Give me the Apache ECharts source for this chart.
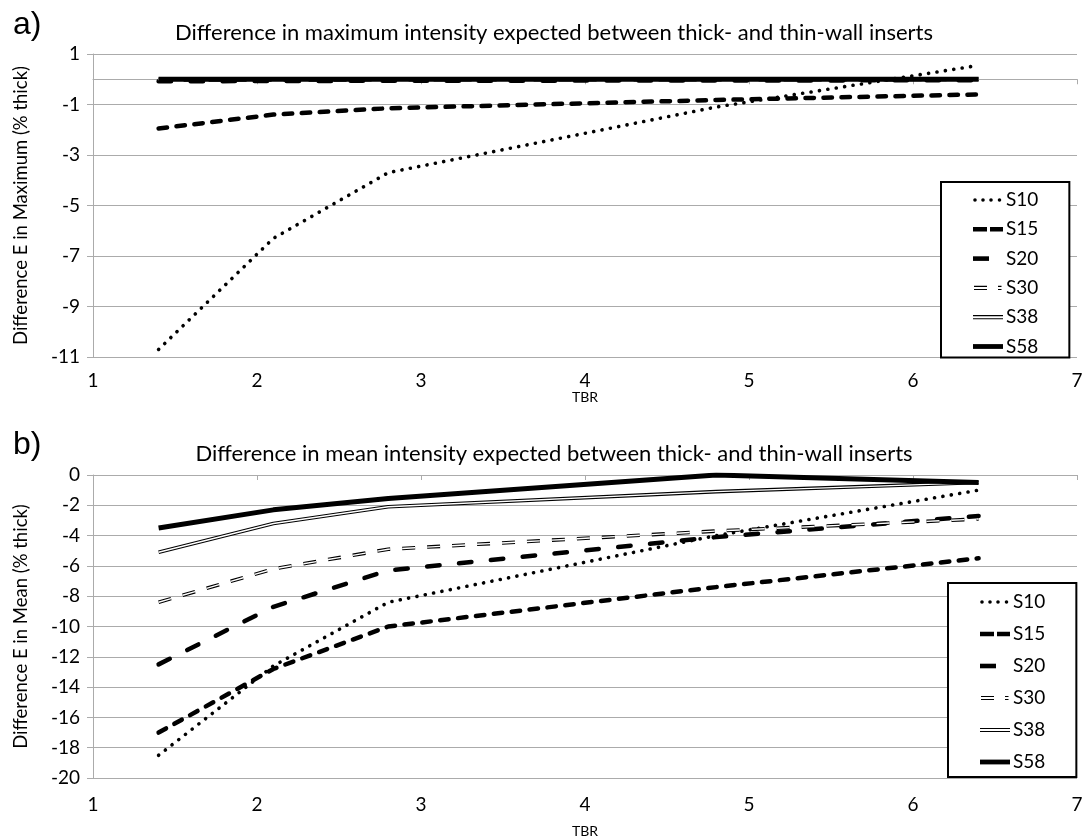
<!DOCTYPE html>
<html>
<head>
<meta charset="utf-8">
<script src="https://cdn.jsdelivr.net/npm/echarts@6/dist/echarts.min.js"></script>
<style>
html, body { margin: 0; padding: 0; background: #fff; }
#chart { width: 1087px; height: 839px; }
</style>
</head>
<body>
<div id="chart"></div>
<script>
// TBR values shared by every series
var tbr = [1.4, 2.1, 2.8, 4.8, 6.4];
var names = ['S10', 'S15', 'S20', 'S30', 'S38', 'S58'];

// a) difference in maximum (% thick)
var maxS10 = [-10.7, -6.3, -3.7, -1.1, 0.55];
var maxS15 = [-1.95, -1.4, -1.15, -0.82, -0.6];
var maxS20 = [-0.08, -0.07, -0.06, -0.05, -0.04];
var maxS30 = [-0.03, -0.03, -0.02, -0.02, -0.01];
var maxS38 = [0, 0, 0, 0, 0];
var maxS58 = [0, 0, 0, 0, 0];

// b) difference in mean (% thick)
var meanS10 = [-18.5, -12.6, -8.4, -4.0, -1.0];
var meanS15 = [-17.0, -12.8, -10.0, -7.4, -5.5];
var meanS20 = [-12.5, -8.7, -6.3, -4.1, -2.7];
var meanS30 = [-8.4, -6.2, -4.9, -3.7, -2.9];
var meanS38 = [-5.1, -3.2, -2.1, -1.1, -0.5];
var meanS58 = [-3.5, -2.3, -1.55, 0, -0.5];

var FONT = 'Lato';
var GRID_COL = '#ababab';

function pts(ys) {
  return tbr.map(function (x, i) { return [x, ys[i]]; });
}

// line looks, one per sample
function lineSeries(name, ys, gi, style) {
  return {
    name: name, type: 'line', data: pts(ys),
    xAxisIndex: gi * 2, yAxisIndex: gi,
    symbol: 'none', silent: true, animation: false,
    lineStyle: Object.assign({ color: '#000', join: 'round' }, style)
  };
}

function seriesFor(gi, d) {
  return [
    lineSeries('S10', d[0], gi, { width: 3.6, type: [0.1, 8.4], cap: 'round' }),
    lineSeries('S15', d[1], gi, { width: 4.5, type: [8.5, 9.5], cap: 'round' }),
    lineSeries('S20', d[2], gi, { width: 4.5, type: [12.5, 19.5], cap: 'round' }),
    lineSeries('S30', d[3], gi, { width: 3.6, type: [13, 12] }),
    lineSeries('S30 inner', d[3], gi, { width: 1.4, type: [13, 12], color: '#fff' }),
    lineSeries('S38', d[4], gi, { width: 3.6 }),
    lineSeries('S38 inner', d[4], gi, { width: 1.4, color: '#fff' }),
    lineSeries('S58', d[5], gi, { width: 5 })
  ];
}

// legend icon paths (30 x 14 box)
var BOX = 'M0,0L0,0M30,14L30,14';
function dot(cx) { return 'M' + (cx - 1.8) + ',7A1.8,1.8 0 1 0 ' + (cx + 1.8) + ',7A1.8,1.8 0 1 0 ' + (cx - 1.8) + ',7Z'; }
function rect(x0, x1, y0, y1) { return 'M' + x0 + ',' + y0 + 'H' + x1 + 'V' + y1 + 'H' + x0 + 'Z'; }
var icons = {
  S10: BOX + dot(2) + dot(10) + dot(18) + dot(26.5),
  S15: BOX + rect(0, 14, 4.7, 9.3) + rect(17, 30, 4.7, 9.3),
  S20: BOX + rect(0, 16, 4.7, 9.3),
  S30: BOX + rect(1, 14, 4.9, 6) + rect(1, 14, 8, 9.1) + rect(25, 28.5, 4.9, 6) + rect(25, 28.5, 8, 9.1),
  S38: BOX + rect(0, 30, 4.9, 6) + rect(0, 30, 8, 9.1),
  S58: BOX + rect(0, 30, 4.6, 9.4)
};

function legendAt(left, top, pad, gap) {
  return {
    orient: 'vertical', left: left, top: top, selectedMode: false,
    itemWidth: 30, itemHeight: 14, itemGap: gap, padding: pad,
    borderColor: '#000', borderWidth: 2, backgroundColor: '#fff',
    textStyle: { fontFamily: FONT, fontSize: 19, color: '#000', lineHeight: 20, padding: [0, 0, 0, -2] },
    data: names.map(function (n) {
      return { name: n, icon: 'path://' + icons[n], itemStyle: { color: '#000', borderWidth: 0 } };
    })
  };
}

function xAxes(gi, labelMargin, nameGap) {
  return [
    { // line through zero with ticks
      type: 'value', gridIndex: gi, min: 1, max: 7, interval: 1,
      axisLine: { onZero: true, lineStyle: { color: GRID_COL, width: 1 } },
      axisTick: { show: true, length: 5, lineStyle: { color: GRID_COL } },
      axisLabel: { show: false }, splitLine: { show: false }
    },
    { // labels at the bottom
      type: 'value', gridIndex: gi, min: 1, max: 7, interval: 1, position: 'bottom',
      axisLine: { show: false, onZero: false }, axisTick: { show: false }, splitLine: { show: false },
      axisLabel: { margin: labelMargin, fontFamily: FONT, fontSize: 19, color: '#000' },
      name: 'TBR', nameLocation: 'middle', nameGap: nameGap,
      nameTextStyle: { fontFamily: FONT, fontSize: 14, color: '#000' }
    }
  ];
}

function yAxis(gi, min, max, name) {
  return {
    type: 'value', gridIndex: gi, min: min, max: max, interval: 2,
    axisLine: { show: true, lineStyle: { color: GRID_COL } },
    axisTick: { show: true, length: 6, lineStyle: { color: GRID_COL } },
    splitLine: { lineStyle: { color: GRID_COL, width: 1 } },
    axisLabel: { margin: 13, fontFamily: FONT, fontSize: 19, color: '#000' },
    name: name, nameLocation: 'middle', nameGap: 62,
    nameTextStyle: { fontFamily: FONT, fontSize: 18.5, color: '#000' }
  };
}

var chart = echarts.init(document.getElementById('chart'), null, { renderer: 'canvas' });
chart.setOption({
  backgroundColor: '#fff',
  animation: false,
  title: [
    { text: 'a)', left: 8, top: 4, textStyle: { fontFamily: 'Liberation Sans', fontSize: 32, fontWeight: 'normal', color: '#000' } },
    { text: 'Difference in maximum intensity expected between thick- and thin-wall inserts', left: 549, top: 17, textAlign: 'center',
      textStyle: { fontFamily: FONT, fontSize: 22, fontWeight: 'normal', color: '#000' } },
    { text: 'b)', left: 8, top: 424, textStyle: { fontFamily: 'Liberation Sans', fontSize: 32, fontWeight: 'normal', color: '#000' } },
    { text: 'Difference in mean intensity expected between thick- and thin-wall inserts', left: 549, top: 438, textAlign: 'center',
      textStyle: { fontFamily: FONT, fontSize: 22, fontWeight: 'normal', color: '#000' } }
  ],
  legend: [legendAt(941, 182, [8, 31, 1, 32], 9.3), legendAt(948, 583, [9, 31, 5, 32], 12)],
  grid: [
    { left: 93, right: 10, top: 54, height: 303 },
    { left: 93, right: 10, top: 475, height: 304 }
  ],
  xAxis: xAxes(0, 14, 28).concat(xAxes(1, 17, 46)),
  yAxis: [
    yAxis(0, -11, 1, 'Difference E in Maximum (% thick)'),
    yAxis(1, -20, 0, 'Difference E in Mean (% thick)')
  ],
  series: seriesFor(0, [maxS10, maxS15, maxS20, maxS30, maxS38, maxS58])
    .concat(seriesFor(1, [meanS10, meanS15, meanS20, meanS30, meanS38, meanS58]))
});
</script>
</body>
</html>
